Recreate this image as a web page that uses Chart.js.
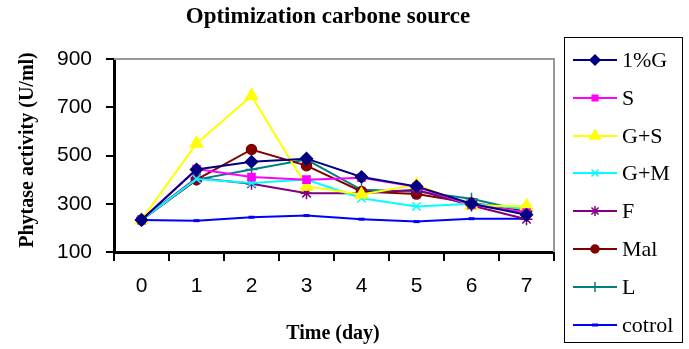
<!DOCTYPE html>
<html>
<head>
<meta charset="utf-8">
<script src="https://cdn.jsdelivr.net/npm/chart.js@4.4.1/dist/chart.umd.min.js"></script>
<style>
  html, body { margin: 0; padding: 0; background: #fff; }
  #wrap { width: 689px; height: 349px; position: relative; }
</style>
</head>
<body>
<div id="wrap"><canvas id="c" width="689" height="349"></canvas></div>
<script>
const days = ['0', '1', '2', '3', '4', '5', '6', '7'];
const yTicks = [100, 300, 500, 700, 900];
const seriesNames = ['1%G', 'S', 'G+S', 'G+M', 'F', 'Mal', 'L', 'cotrol'];
const g1 = [233, 442, 474, 487, 411, 372, 300, 254];
const s = [233, 444, 411, 400, 408, 370, 296, 264];
const gs = [233, 550, 747, 372, 338, 379, 293, 290];
const gm = [233, 403, 386, 400, 323, 289, 300, 278];
const f = [233, 407, 383, 344, 344, 358, 293, 236];
const mal = [233, 400, 525, 458, 351, 340, 303, 272];
const l = [233, 400, 442, 483, 358, 351, 321, 268];
const cotrol = [233, 230, 244, 251, 236, 226, 238, 238];
const titleText = 'Optimization carbone source';
const xTitle = 'Time (day)';
const yTitle = 'Phytase activity (U/ml)';

const styles = [
  { color: '#000080', point: 'rectRot', r: 6 },
  { color: '#FF00FF', point: 'rect', r: 5 },
  { color: '#FFFF00', point: 'triangle', r: 7 },
  { color: '#00FFFF', point: 'crossRot', r: 6 },
  { color: '#800080', point: 'star', r: 6 },
  { color: '#800000', point: 'circle', r: 5 },
  { color: '#008080', point: 'cross', r: 6 },
  { color: '#0000FF', point: 'line', r: 3 }
];
const allData = [g1, s, gs, gm, f, mal, l, cotrol];

const datasets = allData.map((d, i) => ({
  label: seriesNames[i],
  data: d,
  borderColor: styles[i].color,
  backgroundColor: styles[i].color,
  borderWidth: 2,
  pointStyle: styles[i].point,
  pointRadius: styles[i].r,
  pointHoverRadius: styles[i].r,
  pointBorderWidth: styles[i].point === 'line' ? 3 : 1.5,
  pointBorderColor: styles[i].color,
  pointBackgroundColor: styles[i].color,
  tension: 0
}));

const deco = {
  id: 'deco',
  beforeDatasetsDraw(chart) {
    const { ctx, chartArea: a } = chart;
    ctx.save();
    ctx.strokeStyle = '#999999';
    ctx.lineWidth = 2;
    ctx.beginPath();
    ctx.moveTo(a.left, a.top);
    ctx.lineTo(a.right, a.top);
    ctx.lineTo(a.right, a.bottom);
    ctx.stroke();
    ctx.restore();
  },
  afterDraw(chart) {
    const { ctx } = chart;
    ctx.save();
    ctx.fillStyle = '#000';
    ctx.textAlign = 'center';
    ctx.textBaseline = 'middle';
    ctx.font = 'bold 23px "Liberation Serif", "Times New Roman", serif';
    ctx.fillText(titleText, 328, 17);
    ctx.font = 'bold 20px "Liberation Serif", "Times New Roman", serif';
    ctx.fillText(xTitle, 333, 334);
    ctx.save();
    ctx.translate(28, 150);
    ctx.rotate(-Math.PI / 2);
    ctx.fillText(yTitle, 0, 0);
    ctx.restore();

    // legend
    ctx.strokeStyle = '#000';
    ctx.lineWidth = 1;
    ctx.strokeRect(564.5, 37.5, 118, 305);
    const ys = [60, 98, 136, 173, 211, 249, 287, 325];
    ctx.textAlign = 'left';
    ctx.font = '22px "Liberation Serif", "Times New Roman", serif';
    chart.data.datasets.forEach((ds, i) => {
      const y = ys[i];
      ctx.strokeStyle = ds.borderColor;
      ctx.fillStyle = ds.borderColor;
      ctx.lineWidth = 2;
      ctx.beginPath();
      ctx.moveTo(573, y);
      ctx.lineTo(617, y);
      ctx.stroke();
      const st = styles[i];
      ctx.lineWidth = st.point === 'line' ? 3 : 1.5;
      Chart.helpers.drawPoint(ctx, {
        pointStyle: st.point,
        radius: st.point === 'line' ? 3 : Math.max(st.r - 1, 3),
        borderWidth: st.point === 'line' ? 3 : 1.5,
        rotation: 0
      }, 595, y);
      ctx.fillStyle = '#000';
      ctx.fillText(ds.label, 622, y + 1);
    });
    ctx.restore();
  }
};

new Chart(document.getElementById('c'), {
  type: 'line',
  data: { labels: days, datasets },
  options: {
    responsive: false,
    animation: false,
    devicePixelRatio: 1,
    layout: { padding: { left: 0, right: 135, top: 59, bottom: 0 } },
    plugins: { legend: { display: false }, title: { display: false }, tooltip: { enabled: false } },
    scales: {
      x: {
        type: 'category',
        offset: true,
        grid: { offset: true, drawOnChartArea: false, drawTicks: true, tickLength: 9, color: '#000', lineWidth: 2 },
        border: { display: true, color: '#000', width: 3 },
        ticks: { color: '#000', padding: 13, font: { family: '"Liberation Sans", Arial, sans-serif', size: 21 }, maxRotation: 0 },
        afterFit(scale) { scale.height = 97; }
      },
      y: {
        min: 100,
        max: 900,
        afterBuildTicks(scale) { scale.ticks = yTicks.map(v => ({ value: v })); },
        grid: { drawOnChartArea: false, drawTicks: true, tickLength: 8, color: '#000', lineWidth: 2 },
        border: { display: true, color: '#000', width: 3 },
        ticks: { color: '#000', padding: 14, font: { family: '"Liberation Sans", Arial, sans-serif', size: 21 } },
        afterFit(scale) { scale.width = 114; }
      }
    }
  },
  plugins: [deco]
});
</script>
</body>
</html>
